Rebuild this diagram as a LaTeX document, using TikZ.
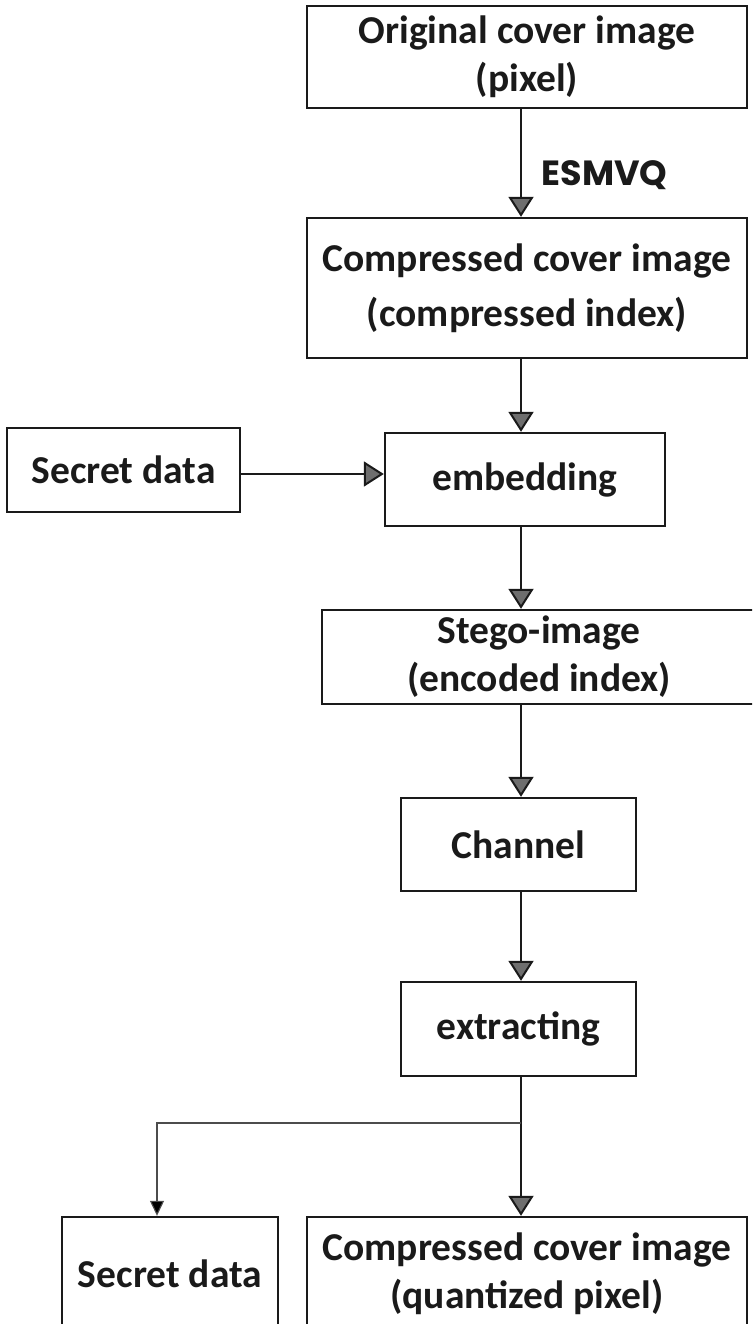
\documentclass[tikz,border=0pt]{standalone}
\usepackage{fontspec}
\setmainfont{Carlito}
\newfontfamily\esmfont{Poppins}
\usetikzlibrary{arrows.meta}
\definecolor{tipgray}{HTML}{6E6E6E}
\definecolor{inkdark}{HTML}{1A1A1A}

\begin{document}
\begin{tikzpicture}[x=1pt, y=-1pt,
  box/.style={draw=inkdark, line width=2.4pt, align=center, inner sep=0pt,
    font=\fontsize{39.5}{48}\selectfont\bfseries, text=inkdark},
  flow/.style={draw=inkdark, line width=2.2pt,
    -{Triangle[width=25pt, length=20pt, fill=tipgray, line width=2pt]}},
  branch/.style={draw=black!70, line width=1.1pt,
    -{Triangle[width=14pt, length=15pt, fill=black]}}]
\clip (0,0) rectangle (752,1324);
% --- encoder side ---
\node[box, minimum width=440pt, minimum height=102pt] (orig) at (527,57)
  {Original cover image\\(pixel)};
\node[box, minimum width=440pt, minimum height=140pt] (comp) at (527,288)
  {Compressed cover image\\[7pt](compressed index)};
\node[box, minimum width=280pt, minimum height=93pt] (embed) at (525,479.5) {embedding};
\node[box, minimum width=233pt, minimum height=84pt] (secret) at (123.5,470) {Secret data};
\node[box, minimum width=434pt, minimum height=94pt] (stego) at (539,657)
  {Stego-image\\(encoded index)};
% --- channel and decoder side ---
\node[box, minimum width=235pt, minimum height=93pt] (chan) at (518.5,844.5) {Channel};
\node[box, minimum width=235pt, minimum height=94pt] (extract) at (518.5,1029) {extracting};
\node[box, minimum width=216pt, minimum height=113pt] (secretout) at (170,1273.5) {Secret data};
\node[box, minimum width=440pt, minimum height=113pt] (quant) at (527,1273.5)
  {Compressed cover image\\(quantized pixel)};
\coordinate (split) at (521,1123);
\coordinate (dropleft) at (157,1123);

% --- connectors ---
\draw[flow] (orig.south -| split) -- (comp.north -| split);
\node[anchor=west, font=\esmfont\bfseries\fontsize{35}{40}\selectfont, text=inkdark] (esm) at (538,175) {ESMVQ};
\draw[flow] (comp.south -| split) -- (embed.north -| split);
\draw[flow] (secret.east |- 0,474) -- (embed.west |- 0,474);
\draw[flow] (embed.south -| split) -- (stego.north -| split);
\draw[flow] (stego.south -| split) -- (chan.north -| split);
\draw[flow] (chan.south -| split) -- (extract.north -| split);
\draw[flow] (extract.south -| split) -- (quant.north -| split);
\draw[branch] (split) -- (dropleft) -- (secretout.north -| dropleft);
\end{tikzpicture}
\end{document}
